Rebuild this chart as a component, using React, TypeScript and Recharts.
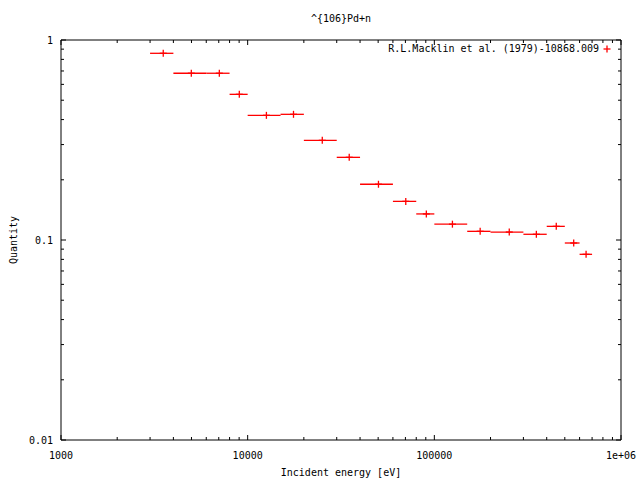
import React from 'react';
import { ScatterChart, Scatter, XAxis, YAxis, ErrorBar, Legend } from 'recharts';

const energyLow = [3000, 4000, 6000, 8000, 10000, 15000, 20000, 30000, 40000, 60000, 80000, 100000, 150000, 200000, 300000, 400000, 500000, 600000];
const energyHigh = [4000, 6000, 8000, 10000, 15000, 20000, 30000, 40000, 60000, 80000, 100000, 150000, 200000, 300000, 400000, 500000, 600000, 700000];
const energyMid = [3530, 4990, 7050, 9020, 12600, 17600, 25100, 35000, 50200, 70300, 90600, 125000, 176000, 252000, 352000, 450000, 558000, 650000];
const quantity = [0.858, 0.682, 0.682, 0.535, 0.42, 0.425, 0.315, 0.259, 0.19, 0.156, 0.135, 0.12, 0.1105, 0.1096, 0.1068, 0.117, 0.0966, 0.0848];

const xTicks = [1000, 2000, 3000, 4000, 5000, 6000, 7000, 8000, 9000, 10000, 20000, 30000, 40000, 50000, 60000, 70000, 80000, 90000, 100000, 200000, 300000, 400000, 500000, 600000, 700000, 800000, 900000, 1000000];
const yTicks = [0.01, 0.02, 0.03, 0.04, 0.05, 0.06, 0.07, 0.08, 0.09, 0.1, 0.2, 0.3, 0.4, 0.5, 0.6, 0.7, 0.8, 0.9, 1];
const xMajorLabels: Record<number, string> = { 1000: '1000', 10000: '10000', 100000: '100000', 1000000: '1e+06' };
const yMajorLabels: Record<number, string> = { 0.01: '0.01', 0.1: '0.1', 1: '1' };

const seriesName = 'R.L.Macklin et al. (1979)-10868.009';
const RED = '#ff0000';
const FONT = '"DejaVu Sans Mono", monospace';

const data = energyMid.map((e, i) => ({
  x: e,
  y: quantity[i],
  xErr: [e - energyLow[i], energyHigh[i] - e],
}));

const MAJOR = 5;
const MINOR = 3;

const BottomTick = (props: any) => {
  const { x, y, payload } = props;
  const v = payload.value;
  const label = xMajorLabels[v];
  const len = label ? MAJOR : MINOR;
  return (
    <g>
      <line x1={x} x2={x} y1={y} y2={y - len} stroke="#000" strokeWidth={1} />
      {label && (
        <text x={x} y={y + 19} textAnchor="middle" fontFamily={FONT} fontSize={10} fill="#000">
          {label}
        </text>
      )}
    </g>
  );
};

const TopTick = (props: any) => {
  const { x, y, payload } = props;
  const len = xMajorLabels[payload.value] ? MAJOR : MINOR;
  return <line x1={x} x2={x} y1={y} y2={y + len} stroke="#000" strokeWidth={1} />;
};

const LeftTick = (props: any) => {
  const { x, y, payload } = props;
  const label = yMajorLabels[payload.value];
  const len = label ? MAJOR : MINOR;
  return (
    <g>
      <line x1={x} x2={x + len} y1={y} y2={y} stroke="#000" strokeWidth={1} />
      {label && (
        <text x={x - 8} y={y + 4} textAnchor="end" fontFamily={FONT} fontSize={10} fill="#000">
          {label}
        </text>
      )}
    </g>
  );
};

const RightTick = (props: any) => {
  const { x, y, payload } = props;
  const len = yMajorLabels[payload.value] ? MAJOR : MINOR;
  return <line x1={x} x2={x - len} y1={y} y2={y} stroke="#000" strokeWidth={1} />;
};

const PlusShape = (props: any) => {
  const { cx, cy } = props;
  if (cx == null || cy == null) return null;
  return (
    <g>
      <line x1={cx - 3.5} x2={cx + 3.5} y1={cy} y2={cy} stroke={RED} strokeWidth={1.3} />
      <line x1={cx} x2={cx} y1={cy - 3.5} y2={cy + 3.5} stroke={RED} strokeWidth={1.3} />
    </g>
  );
};

const LegendContent = () => (
  <div style={{ fontFamily: FONT, fontSize: 10, color: '#000', whiteSpace: 'nowrap', display: 'flex', alignItems: 'center', lineHeight: '12px' }}>
    <span>{seriesName}</span>
    <svg width={16} height={10} style={{ marginLeft: 0 }}>
      <line x1={4.5} x2={11.5} y1={5} y2={5} stroke={RED} strokeWidth={1.3} />
      <line x1={8} x2={8} y1={1.5} y2={8.5} stroke={RED} strokeWidth={1.3} />
    </svg>
  </div>
);

export default function App() {
  return (
    <div style={{ position: 'absolute', left: 0, top: 0, width: 640, height: 480, background: '#fff' }}>
      <ScatterChart width={640} height={480} margin={{ top: 39, right: 18, bottom: 0, left: 0 }}>
        <text x={341} y={22} textAnchor="middle" fontFamily={FONT} fontSize={10} fill="#000">
          ^{'{'}106{'}'}Pd+n
        </text>
        <text x={341} y={476} textAnchor="middle" fontFamily={FONT} fontSize={10} fill="#000">
          Incident energy [eV]
        </text>
        <text x={17} y={240} textAnchor="middle" fontFamily={FONT} fontSize={10} fill="#000" transform="rotate(-90 17 240)">
          Quantity
        </text>
        <XAxis
          xAxisId="b"
          type="number"
          dataKey="x"
          scale="log"
          domain={[1000, 1000000]}
          allowDataOverflow
          ticks={xTicks}
          interval={0}
          orientation="bottom"
          height={40}
          tickSize={0}
          tickMargin={0}
          tickLine={false}
          tick={<BottomTick />}
          axisLine={{ stroke: '#000', strokeWidth: 1 }}
        />
        <XAxis
          xAxisId="t"
          type="number"
          dataKey="x"
          scale="log"
          domain={[1000, 1000000]}
          allowDataOverflow
          ticks={xTicks}
          interval={0}
          orientation="top"
          height={1}
          tickSize={0}
          tickMargin={0}
          tickLine={false}
          tick={<TopTick />}
          axisLine={{ stroke: '#000', strokeWidth: 1 }}
        />
        <YAxis
          yAxisId="l"
          type="number"
          dataKey="y"
          scale="log"
          domain={[0.01, 1]}
          allowDataOverflow
          ticks={yTicks}
          interval={0}
          orientation="left"
          width={61}
          tickSize={0}
          tickMargin={0}
          tickLine={false}
          tick={<LeftTick />}
          axisLine={{ stroke: '#000', strokeWidth: 1 }}
        />
        <YAxis
          yAxisId="r"
          type="number"
          dataKey="y"
          scale="log"
          domain={[0.01, 1]}
          allowDataOverflow
          ticks={yTicks}
          interval={0}
          orientation="right"
          width={1}
          tickSize={0}
          tickMargin={0}
          tickLine={false}
          tick={<RightTick />}
          axisLine={{ stroke: '#000', strokeWidth: 1 }}
        />
        <Legend
          layout="vertical"
          align="center"
          verticalAlign="middle"
          wrapperStyle={{ right: 25, top: 43, width: 'auto' }}
          content={<LegendContent />}
        />
        <Scatter
          name={seriesName}
          data={data}
          xAxisId="b"
          yAxisId="l"
          fill={RED}
          shape={<PlusShape />}
          isAnimationActive={false}
        >
          <ErrorBar dataKey="xErr" direction="x" width={0} stroke={RED} strokeWidth={1.3} isAnimationActive={false} />
        </Scatter>
      </ScatterChart>
    </div>
  );
}
